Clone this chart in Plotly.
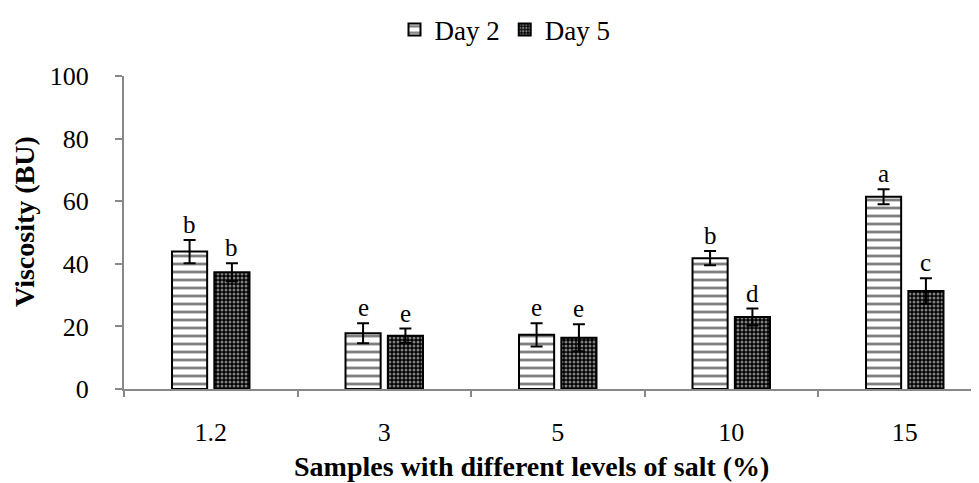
import plotly.graph_objects as go

categories = ["1.2", "3", "5", "10", "15"]
day2 = [43.9, 17.8, 17.3, 41.8, 61.4]
day2_err = [3.7, 3.2, 3.7, 2.3, 2.4]
day2_letters = ["b", "e", "e", "b", "a"]
day5 = [37.3, 17.0, 16.4, 23.0, 31.3]
day5_err = [2.9, 2.3, 4.3, 2.7, 4.1]
day5_letters = ["b", "e", "e", "d", "c"]
y_ticks = [0, 20, 40, 60, 80, 100]

FONT = "Liberation Serif"
W, H = 979, 483
OFF = 8  # page body offset
L, R, T, B = 124 - OFF, OFF, 76 - OFF, 483 - (389 - OFF)
pw, ph = W - L - R, H - T - B


def px(xp, yp):
    """page pixel -> paper coords"""
    return ((xp - OFF - L) / pw, (H - B - (yp - OFF)) / ph)


fig = go.Figure()
fig.add_trace(go.Bar(
    name="Day 2", x=categories, y=day2,
    error_y=dict(type="data", array=day2_err, color="black", thickness=2, width=6),
    marker=dict(color="white", line=dict(color="black", width=2),
                pattern=dict(shape="-", bgcolor="white", fgcolor="black", size=8, solidity=0.35)),
))
fig.add_trace(go.Bar(
    name="Day 5", x=categories, y=day5,
    error_y=dict(type="data", array=day5_err, color="black", thickness=2, width=6),
    marker=dict(color="black", line=dict(color="black", width=2),
                pattern=dict(shape=".", bgcolor="black", fgcolor="white", size=4, solidity=0.45)),
))

slot = 0.244
for i, c in enumerate(categories):
    fig.add_annotation(x=i - slot / 2, y=day2[i] + day2_err[i], text=day2_letters[i],
                       xref="x", yref="y", showarrow=False, xanchor="center", yanchor="bottom", yshift=0,
                       font=dict(family=FONT, size=25, color="black"))
    fig.add_annotation(x=i + slot / 2, y=day5[i] + day5_err[i], text=day5_letters[i],
                       xref="x", yref="y", showarrow=False, xanchor="center", yanchor="bottom", yshift=0,
                       font=dict(family=FONT, size=25, color="black"))

yx, yy = px(25, 222)
fig.add_annotation(x=yx, y=yy, xref="paper", yref="paper", xanchor="center", yanchor="middle",
                   text="<b>Viscosity (BU)</b>", textangle=-90, showarrow=False,
                   font=dict(family=FONT, size=28, color="black"))
tx, ty = px(531, 467)
fig.add_annotation(x=tx, y=ty, xref="paper", yref="paper", xanchor="center", yanchor="middle",
                   text="<b>Samples with different levels of salt (%)</b>", showarrow=False,
                   font=dict(family=FONT, size=28, color="black"))

lx, ly = px(505, 30)
fig.update_layout(
    width=W, height=H,
    margin=dict(l=L, r=R, t=T, b=B, autoexpand=False),
    plot_bgcolor="white", paper_bgcolor="white",
    barmode="group", bargap=0.512, bargroupgap=0.17,
    font=dict(family=FONT, size=26, color="black"),
    showlegend=True,
    legend=dict(orientation="h", x=lx, xanchor="center", y=ly, yanchor="middle",
                font=dict(family=FONT, size=27, color="black"),
                itemwidth=30, bgcolor="rgba(0,0,0,0)"),
)
fig.update_xaxes(range=[-0.5, -0.5 + pw / 173.5], showline=True, linecolor="#888888", linewidth=2,
                 ticks="outside", tickson="boundaries", tickcolor="#888888", ticklen=6, tickwidth=2,
                 ticklabelstandoff=19, showgrid=False, zeroline=False,
                 tickfont=dict(family=FONT, size=26, color="black"))
fig.update_yaxes(range=[0, 100], tickvals=y_ticks, showline=True, linecolor="#888888", linewidth=2,
                 ticks="outside", tickcolor="#888888", ticklen=7, tickwidth=2,
                 showgrid=False, zeroline=False, ticklabelstandoff=21,
                 tickfont=dict(family=FONT, size=26, color="black"))

fig.write_html("out.html")
